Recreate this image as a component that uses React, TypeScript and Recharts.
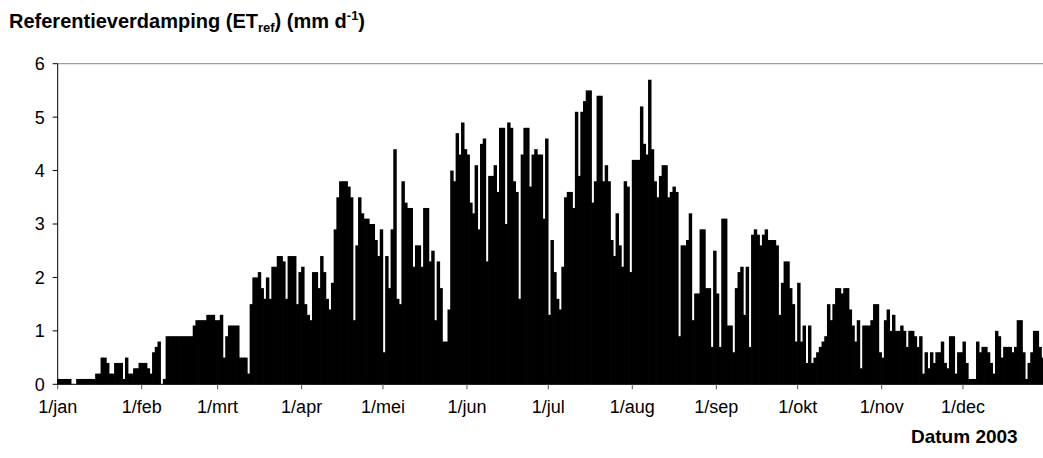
import React from "react";
import { BarChart, Bar, XAxis, YAxis, ReferenceLine } from "recharts";

// daily reference evapotranspiration 2003 (mm/d)
const jan = [0.1, 0.1, 0.1, 0.1, 0.1, 0, 0, 0.1, 0.1, 0.1, 0.1, 0.1, 0.1, 0.1, 0.2, 0.2, 0.5, 0.5, 0.4, 0.2, 0.2, 0.4, 0.4, 0.4, 0.1, 0.5, 0.2, 0.2, 0.3, 0.3, 0.4];
const feb = [0.4, 0.4, 0.3, 0.2, 0.6, 0.7, 0.8, 0, 0.1, 0.9, 0.9, 0.9, 0.9, 0.9, 0.9, 0.9, 0.9, 0.9, 0.9, 1.1, 1.2, 1.2, 1.2, 1.2, 1.3, 1.3, 1.3, 1.2];
const mrt = [1.2, 1.3, 0.5, 0.9, 1.1, 1.1, 1.1, 1.1, 0.5, 0.5, 0.5, 0.2, 1.5, 2.0, 2.0, 2.1, 1.8, 1.6, 2.0, 1.6, 2.2, 2.2, 2.4, 2.4, 2.3, 1.6, 2.4, 2.4, 2.4, 1.5, 2.1];
const apr = [2.2, 1.5, 1.3, 1.2, 2.1, 2.1, 1.8, 2.4, 2.1, 1.6, 1.4, 1.9, 2.9, 3.5, 3.8, 3.8, 3.8, 3.7, 3.5, 1.2, 2.6, 3.5, 3.2, 3.1, 3.1, 3.0, 3.0, 2.7, 2.4, 2.9];
const mei = [0.6, 2.4, 1.8, 2.9, 4.4, 1.6, 1.5, 3.8, 3.4, 3.3, 3.3, 2.2, 2.6, 2.6, 2.2, 3.3, 3.3, 2.3, 2.5, 1.2, 2.3, 1.8, 0.8, 0.8, 1.4, 4.0, 3.8, 4.7, 4.3, 4.9, 4.4];
const jun = [4.3, 3.4, 3.2, 4.1, 2.9, 4.5, 4.6, 2.3, 3.9, 3.9, 4.1, 3.6, 4.8, 4.8, 3.0, 4.9, 4.8, 3.8, 3.6, 1.6, 4.3, 4.8, 4.8, 3.7, 4.3, 4.4, 4.3, 4.3, 3.1, 4.6];
const jul = [1.3, 2.7, 2.1, 1.6, 1.4, 2.2, 3.5, 3.6, 3.6, 3.3, 5.1, 3.9, 5.1, 5.3, 5.5, 5.5, 3.4, 3.8, 5.4, 5.4, 3.8, 4.1, 3.8, 2.7, 2.4, 3.2, 2.6, 2.2, 3.8, 3.7, 2.1];
const aug = [4.2, 4.2, 4.2, 5.2, 4.5, 4.3, 5.7, 4.4, 3.8, 3.5, 3.9, 4.1, 4.1, 3.5, 3.6, 3.7, 3.6, 0.9, 2.6, 2.6, 2.7, 3.2, 1.2, 1.7, 1.7, 2.9, 2.9, 1.8, 1.8, 0.7, 2.5];
const sep = [1.7, 0.7, 3.1, 3.1, 1.1, 1.1, 0.6, 1.8, 2.1, 2.2, 1.3, 2.2, 0.7, 2.8, 2.9, 2.8, 2.6, 2.8, 2.9, 2.7, 2.7, 2.7, 2.6, 1.3, 1.9, 2.3, 2.3, 1.8, 1.5, 0.8];
const okt = [1.9, 0.8, 1.1, 0.4, 1.1, 0.4, 0.5, 0.6, 0.7, 0.8, 0.9, 1.5, 1.2, 1.5, 1.8, 1.8, 1.7, 1.8, 1.8, 1.4, 1.1, 0.8, 1.2, 0.3, 1.1, 1.1, 1.1, 1.2, 1.5, 1.5, 0.6];
const nov = [0.5, 1.2, 1.4, 1.0, 1.3, 1.0, 1.0, 1.1, 1.0, 0.7, 1.0, 1.0, 0.9, 0.7, 0.9, 0.2, 0.6, 0.3, 0.6, 0.4, 0.6, 0.6, 0.8, 0.4, 0.3, 0.9, 0.9, 0.2, 0.6, 0.6];
const dec = [0.8, 0.4, 0.1, 0.1, 0.1, 0.8, 0.6, 0.7, 0.7, 0.6, 0.4, 0.2, 1.0, 0.9, 0.5, 0.7, 0.7, 0.7, 0.6, 0.7, 1.2, 1.2, 0.6, 0.1, 0.4, 0.6, 1.0, 1.0, 0.7, 0.5, 0.5];

const months = [jan, feb, mrt, apr, mei, jun, jul, aug, sep, okt, nov, dec];
const monthLabels = ["1/jan", "1/feb", "1/mrt", "1/apr", "1/mei", "1/jun", "1/jul", "1/aug", "1/sep", "1/okt", "1/nov", "1/dec"];
const yTicks = [0, 1, 2, 3, 4, 5, 6];

const values = months.flat();
const data = values.map((v, i) => ({ x: i + 0.5, v }));

// first day of each month, used as tick positions
const monthStarts: number[] = [];
months.reduce((acc, m) => {
  monthStarts.push(acc);
  return acc + m.length;
}, 0);

const font = "'Liberation Sans', Arial, sans-serif";

const CHART_W = 1047;
const CHART_H = 458;
const PLOT_LEFT = 57.7;
const PLOT_TOP = 63.7;
const PLOT_BOTTOM = 384.3;
const X_AXIS_H = 30;
const barW = (CHART_W - PLOT_LEFT) / values.length;

// widen each bar slightly so neighbouring days overlap and no white seams show
const DayBar = (p: any) => {
  if (!p.height || p.height <= 0) return null;
  return (
    <rect
      x={p.x - 0.5}
      y={p.y}
      width={p.width + 1}
      height={p.height}
      fill="#000"
    />
  );
};

export default function App() {
  return (
    <div
      style={{
        position: "absolute",
        left: 0,
        top: 0,
        width: 1043,
        height: 458,
        overflow: "hidden",
        background: "#fff",
        fontFamily: font,
      }}
    >
      <div
        style={{
          position: "absolute",
          left: 9,
          top: 10,
          fontSize: 20,
          fontWeight: "bold",
          color: "#000",
          whiteSpace: "nowrap",
          lineHeight: "22px",
        }}
      >
        Referentieverdamping (ET
        <span style={{ fontSize: 13, position: "relative", top: 4 }}>ref</span>
        ) (mm d
        <span style={{ fontSize: 13, position: "relative", top: -8 }}>-1</span>)
      </div>

      <BarChart
        width={CHART_W}
        height={CHART_H}
        data={data}
        margin={{
          top: PLOT_TOP,
          right: 0,
          left: 0,
          bottom: CHART_H - PLOT_BOTTOM - X_AXIS_H,
        }}
        barGap={0}
        barCategoryGap={0}
      >
        <XAxis
          dataKey="x"
          type="number"
          domain={[0, values.length]}
          ticks={monthStarts}
          interval={0}
          tickFormatter={(v: number) => monthLabels[monthStarts.indexOf(v)] ?? ""}
          height={X_AXIS_H}
          axisLine={{ stroke: "#000" }}
          tickLine={{ stroke: "#555" }}
          tickSize={5}
          tickMargin={11}
          tick={{ fill: "#000", fontSize: 18, fontFamily: font }}
        />
        <YAxis
          type="number"
          domain={[0, 6]}
          ticks={yTicks}
          width={PLOT_LEFT}
          axisLine={{ stroke: "#000" }}
          tickLine={{ stroke: "#000" }}
          tickSize={5}
          tickMargin={8}
          tick={{ fill: "#000", fontSize: 18, fontFamily: font }}
        />
        <ReferenceLine y={6} stroke="#888" strokeWidth={1} />
        <Bar
          dataKey="v"
          fill="#000"
          barSize={barW}
          shape={DayBar}
          isAnimationActive={false}
        />
      </BarChart>

      <div
        style={{
          position: "absolute",
          left: 911,
          top: 426,
          fontSize: 19,
          fontWeight: "bold",
          color: "#000",
          whiteSpace: "nowrap",
        }}
      >
        Datum 2003
      </div>
    </div>
  );
}
